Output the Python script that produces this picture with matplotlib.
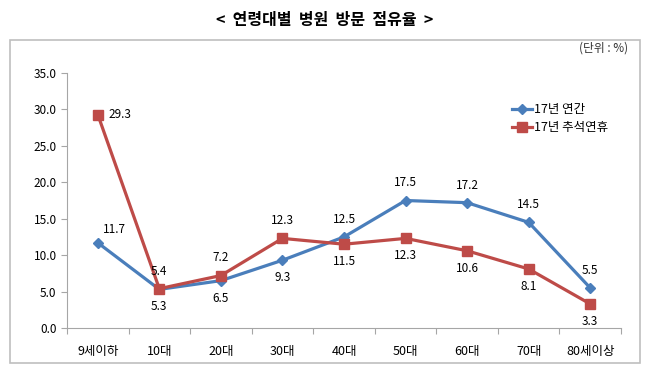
import matplotlib
matplotlib.use('Agg')
import matplotlib.pyplot as plt
from matplotlib.patches import Rectangle

plt.rcParams['font.family'] = ['Noto Sans CJK KR', 'DejaVu Sans']

# data
categories = ['9세이하', '10대', '20대', '30대', '40대', '50대', '60대', '70대', '80세이상']
year_17 = [11.7, 5.3, 6.5, 9.3, 12.5, 17.5, 17.2, 14.5, 5.5]
chuseok_17 = [29.3, 5.4, 7.2, 12.3, 11.5, 12.3, 10.6, 8.1, 3.3]
series_names = ['17년 연간', '17년 추석연휴']

# label placement: 'up', 'down', 'right'
year_pos = ['upright', 'down', 'down', 'down', 'up', 'up', 'up', 'up', 'up']
chuseok_pos = ['right', 'up', 'up', 'up', 'down', 'down', 'down', 'down', 'down']

BLUE = '#4a7ebb'
RED = '#be4b48'

fig = plt.figure(figsize=(6.5, 3.75), dpi=100)
fig.patches.append(Rectangle((10/650, 1-363/375), 630/650, 323/375, transform=fig.transFigure,
                             fill=False, edgecolor='#bfbfbf', linewidth=1.2))
fig.text(0.5, 1-20/375, '<  연령대별  병원  방문  점유율  >', ha='center', va='center',
         fontsize=11.5, fontweight='bold')
fig.text(628/650, 1-48/375, '(단위 : %)', ha='right', va='center', fontsize=8.5, color='#333333')

ax = fig.add_axes([67/650, 1-328/375, 554/650, 255/375])
x = list(range(len(categories)))
ax.plot(x, year_17, color=BLUE, linewidth=2.3, marker='D', markersize=5.5, label=series_names[0])
ax.plot(x, chuseok_17, color=RED, linewidth=2.3, marker='s', markersize=7.5, label=series_names[1])

def put_labels(vals, pos):
    for i, (v, p) in enumerate(zip(vals, pos)):
        if p == 'up':
            ax.annotate(f'{v:.1f}', (i, v), xytext=(0, 8), textcoords='offset points', ha='center', va='bottom', fontsize=8.5)
        elif p == 'down':
            ax.annotate(f'{v:.1f}', (i, v), xytext=(0, -8), textcoords='offset points', ha='center', va='top', fontsize=8.5)
        elif p == 'upright':
            ax.annotate(f'{v:.1f}', (i, v), xytext=(4, 5), textcoords='offset points', ha='left', va='bottom', fontsize=8.5)
        else:
            ax.annotate(f'{v:.1f}', (i, v), xytext=(8, 0), textcoords='offset points', ha='left', va='center', fontsize=8.5)

put_labels(year_17, year_pos)
put_labels(chuseok_17, chuseok_pos)

ax.set_xlim(-0.5, len(categories) - 0.5)
ax.set_ylim(0, 35)
ax.set_yticks([0, 5, 10, 15, 20, 25, 30, 35])
ax.set_yticklabels([f'{t:.1f}' for t in ax.get_yticks()], fontsize=8.5)
ax.set_xticks([i + 0.5 for i in range(-1, len(categories))], minor=False)
ax.set_xticklabels([])
ax.set_xticks(x, minor=True)
ax.set_xticklabels(categories, minor=True, fontsize=9)
ax.tick_params(axis='x', which='minor', length=0, pad=12)
ax.tick_params(axis='x', which='major', length=4, color='#a6a6a6', direction='out')
ax.tick_params(axis='y', length=4, color='#a6a6a6', direction='out')
for s in ['top', 'right']:
    ax.spines[s].set_visible(False)
for s in ['left', 'bottom']:
    ax.spines[s].set_color('#a6a6a6')

ax.legend(loc='upper left', bbox_to_anchor=(0.795, 0.9), frameon=False, fontsize=9,
          handlelength=1.6, handletextpad=0.1, labelspacing=0.4, borderaxespad=0)

fig.savefig('out.png', dpi=100)
